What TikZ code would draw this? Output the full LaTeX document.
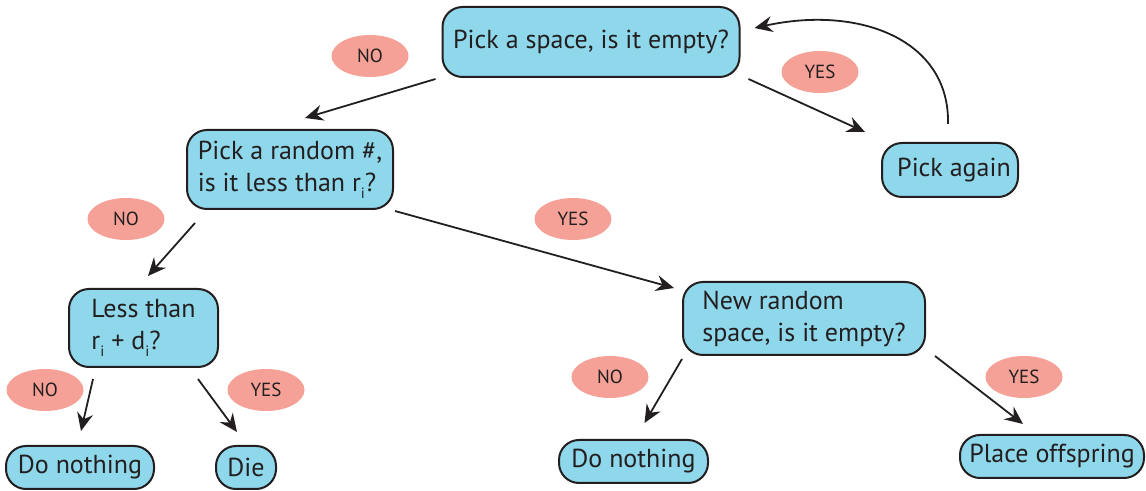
\documentclass[tikz,border=0pt]{standalone}
\usepackage{fontspec}
\setmainfont{PT Sans}
\usepackage{xcolor}
\usetikzlibrary{arrows.meta,shapes.geometric}

\definecolor{boxblue}{HTML}{8FD7EA}
\definecolor{tagpink}{HTML}{F5A197}
\definecolor{ink}{HTML}{231F20}

\newcommand{\lowi}{\raisebox{-3.5pt}{\fontsize{7.5}{8}\selectfont i}}

\tikzset{
  box/.style={draw=ink, fill=boxblue, line width=1pt, rounded corners=10pt,
    align=left, text=ink, inner sep=0pt, font=\fontsize{13}{16}\selectfont},
  tag/.style={ellipse, fill=tagpink, text=ink, inner sep=0pt,
    minimum width=38.5pt, minimum height=21pt, font=\fontsize{9.5}{10}\selectfont},
  go/.style={draw=ink, line width=0.9pt, -{Stealth[length=9pt,width=8pt,inset=3pt]}},
}

\begin{document}
\begin{tikzpicture}[x=0.5pt,y=-0.5pt]
    \useasboundingbox (0,0) rectangle (1146,491);
    % questions
    \node[box, minimum width=148.5pt, minimum height=35pt] (space) at (591,42) {Pick a space, is it empty?};
    \node[box, minimum width=103pt, minimum height=39.5pt] (rand) at (290,169.5) {Pick a random \#,\\is it less than r\lowi?};
    \node[box, minimum width=68pt, minimum height=27pt] (again) at (950,170) {\hspace*{4pt}Pick again};
    \node[box, minimum width=74.5pt, minimum height=39pt] (less) at (143.5,328) {Less than\\r\lowi{} + d\lowi?};
    \node[box, minimum width=121pt, minimum height=36.5pt] (newsp) at (804,318.5) {New random\\space, is it empty?};
    % outcomes
    \node[box, minimum width=74pt, minimum height=21.5pt] (nothingL) at (80,467.5) {Do nothing};
    \node[box, minimum width=30pt, minimum height=21.5pt] (die) at (246,467.5) {Die};
    \node[box, minimum width=74.5pt, minimum height=21.5pt] (nothingR) at (633.5,461.5) {Do nothing};
    \node[box, minimum width=92pt, minimum height=21.5pt] (place) at (1052,456.5) {Place offspring};
    % answers
    \node[tag] (no1) at (370,56) {NO};
    \node[tag] (yes1) at (820,72) {YES};
    \node[tag] (no2) at (126,219) {NO};
    \node[tag] (yes2) at (573,219) {YES};
    \node[tag] (no3) at (45,390) {NO};
    \node[tag] (yes3) at (266,390) {YES};
    \node[tag] (no4) at (610,377) {NO};
    \node[tag] (yes4) at (1024,377) {YES};
    % arrows
    \draw[go] ([shift={(-6,1)}]space.south west) -- ([shift={(15,-11)}]rand.north);
    \draw[go] ([shift={(8,1)}]space.south east) -- ([shift={(-16,-10)}]again.north west);
    \draw[go] ([shift={(-2,-18)}]again.north) .. controls (950,40) and (860,5) .. ([shift={(14,-14)}]space.east);
    \draw[go] ([shift={(9,13)}]rand.south west) -- ([shift={(4.5,-12)}]less.north);
    \draw[go] ([shift={(1,1)}]rand.south east) -- ([shift={(-8,7)}]newsp.north west);
    \draw[go] ([shift={(25,11)}]less.south west) -- ([shift={(1,-14)}]nothingL.north);
    \draw[go] ([shift={(-21,11)}]less.south east) -- ([shift={(-9,-13)}]die.north);
    \draw[go] ([shift={(0,3)}]newsp.south west) -- ([shift={(11,-16)}]nothingR.north);
    \draw[go] ([shift={(9,0)}]newsp.south east) -- ([shift={(-29,-10)}]place.north);
\end{tikzpicture}
\end{document}
